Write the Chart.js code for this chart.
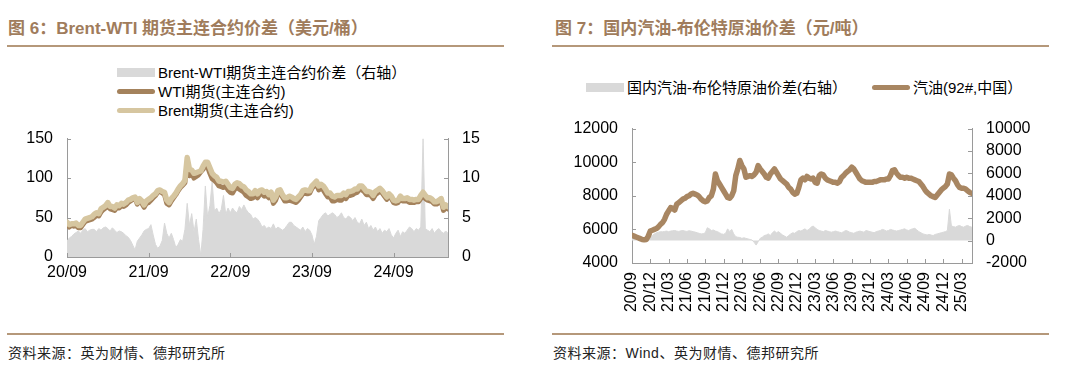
<!DOCTYPE html>
<html lang="zh-CN">
<head>
<meta charset="utf-8">
<title>Brent-WTI 价差 / 国内汽油-布伦特价差</title>
<script src="https://cdn.jsdelivr.net/npm/chart.js@4.4.1/dist/chart.umd.min.js"></script>
<style>
    html, body { margin: 0; padding: 0; background: #fff; }
    body {
        width: 1080px; height: 376px; position: relative; overflow: hidden;
        font-family: "Liberation Sans", "Noto Sans CJK SC", sans-serif; color: #000;
    }
    .title {
        position: absolute; top: 18px; font-size: 17px; font-weight: bold;
        color: #a07c5c; line-height: 21px; white-space: nowrap;
    }
    .rule { position: absolute; height: 2px; background: #b5987a; }
    .source {
        position: absolute; top: 344px; font-size: 14px; letter-spacing: 0.5px;
        color: #222; line-height: 18px; white-space: nowrap;
    }
    .legend { position: absolute; font-size: 15px; line-height: 19px; white-space: nowrap; }
    .legend .item { display: flex; align-items: center; height: 19px; }
    .legend.inline { display: flex; }
    .legend.inline .item + .item { margin-left: 25px; }
    .swatch { display: inline-block; width: 38px; margin-right: 3px; }
    .swatch.box { height: 9px; }
    .swatch.line { height: 5px; border-radius: 3px; }
    .wrap { position: absolute; }
</style>
</head>
<body>

<div class="title" style="left:8px">图 6：Brent-WTI 期货主连合约价差（美元/桶）</div>
<div class="rule" style="left:7px; width:497px; top:45px"></div>
<div class="title" style="left:555px">图 7：国内汽油-布伦特原油价差（元/吨）</div>
<div class="rule" style="left:552px; width:497px; top:45px"></div>

<div id="legendLeft" class="legend" style="left:117px; top:63px"></div>
<div id="legendRight" class="legend inline" style="left:586px; top:78px"></div>

<div class="wrap" style="left:0; top:115px; width:504px; height:175px">
    <canvas id="brentWtiChart" width="504" height="175"></canvas>
</div>
<div class="wrap" style="left:553px; top:105px; width:500px; height:220px">
    <canvas id="gasolineChart" width="500" height="220"></canvas>
</div>

<div class="rule" style="left:7px; width:497px; top:333px"></div>
<div class="source" style="left:8px">资料来源：英为财情、德邦研究所</div>
<div class="rule" style="left:552px; width:497px; top:333px"></div>
<div class="source" style="left:553px">资料来源：Wind、英为财情、德邦研究所</div>

<script>
// Both series start 2020/09, three readings per month, last reading 2025/05
const samplesPerMonth = 3;

// Fig 6 tick labels (one per year)
const brentTickLabels = ["20/09", "21/09", "22/09", "23/09", "24/09"];

// WTI futures, main contract (USD/bbl)
const wti = [
    42, 38, 40, 39, 40, 37, 37, 41, 45, 46, 47, 48,
    50, 53, 52, 57, 60, 62, 65, 61, 60, 59, 63, 62, 65, 64, 66, 69, 71, 73,
    75, 67, 72, 68, 63, 68, 69, 72, 75, 78, 82, 83, 81, 79, 68, 66, 71, 75,
    79, 84, 88, 91, 94, 117, 103, 106, 100, 102, 104, 108, 111, 117, 114, 106, 99, 97,
    94, 90, 89, 88, 90, 85, 82, 81, 86, 88, 86, 84, 82, 78, 76, 74, 75, 78,
    75, 79, 80, 77, 78, 75, 78, 68, 72, 80, 81, 76, 71, 71, 72, 71, 70, 69,
    72, 76, 80, 81, 80, 81, 87, 90, 93, 85, 87, 85, 80, 76, 76, 71, 71, 73,
    72, 72, 76, 74, 78, 78, 79, 81, 82, 86, 85, 83, 79, 79, 78, 74, 79, 81,
    83, 81, 77, 73, 77, 74, 69, 68, 69, 74, 71, 71, 71, 69, 69, 69, 70, 70,
    74, 79, 74, 72, 71, 70, 67, 67, 69, 71, 59, 63, 61
];

// Brent futures, main contract (USD/bbl)
const brent = [
    44, 41, 42, 42, 43, 40, 40, 44, 48, 49, 50, 51,
    54, 56, 55, 61, 63, 65, 69, 64, 64, 62, 66, 65, 68, 67, 69, 72, 73, 75,
    76, 69, 74, 71, 66, 71, 73, 75, 78, 80, 84, 85, 83, 82, 72, 69, 74, 77,
    81, 86, 90, 93, 97, 126, 111, 110, 106, 107, 108, 109, 115, 120, 120, 113, 106, 103,
    101, 96, 96, 95, 96, 92, 88, 87, 92, 94, 93, 90, 89, 85, 83, 80, 80, 84,
    80, 84, 85, 82, 83, 79, 82, 72, 76, 84, 85, 79, 75, 75, 77, 76, 74, 73,
    76, 79, 84, 85, 84, 84, 90, 93, 96, 90, 92, 90, 86, 81, 81, 77, 76, 78,
    78, 78, 81, 79, 83, 83, 84, 86, 86, 90, 90, 87, 83, 83, 82, 78, 83, 85,
    87, 84, 80, 76, 80, 77, 72, 71, 72, 77, 74, 74, 75, 73, 73, 72, 73, 73,
    78, 82, 78, 75, 75, 73, 70, 70, 72, 74, 63, 66, 64
];

// Brent-WTI spread (USD/bbl, right axis)
const brentWtiSpread = [
    2.0, 2.4, 2.6, 2.9, 3.1, 3.3, 3.0, 3.4, 3.6, 3.2, 3.4, 3.5,
    3.5, 3.2, 3.6, 3.4, 3.7, 3.8, 3.6, 3.3, 3.7, 3.4, 3.1, 3.3, 3.2, 3.0, 2.7, 2.5, 2.1, 1.5,
    0.9, 2.0, 2.4, 2.8, 3.3, 3.5, 3.6, 4.1, 2.8, 1.6, 1.1, 1.4, 2.1, 4.3, 3.0, 2.4, 3.0, 2.2,
    1.2, 1.6, 2.2, 2.0, 3.5, 6.8, 4.0, 5.5, 3.2, 4.8, 2.2, 0.2, 3.5, 9.0, 5.0, 6.5, 9.5, 5.8,
    6.2, 5.5, 6.0, 7.8, 5.4, 6.2, 5.6, 6.2, 5.8, 5.6, 6.4, 6.0, 6.6, 6.0, 5.6, 5.4, 4.8, 5.0,
    4.8, 4.4, 3.8, 4.0, 3.6, 3.8, 3.6, 4.2, 3.5, 3.8, 3.6, 3.4, 3.6, 4.0, 4.4, 4.4, 4.0, 3.8,
    3.6, 3.4, 3.8, 3.2, 3.6, 3.4, 2.8, 1.6, 2.6, 4.6, 5.0, 5.4, 5.6, 5.2, 5.4, 5.6, 5.4, 5.0,
    5.2, 5.6, 5.0, 4.8, 5.2, 5.0, 4.6, 5.0, 4.4, 4.2, 4.8, 4.0, 4.4, 3.6, 4.0, 3.4, 3.8, 3.2,
    3.6, 3.0, 3.4, 3.2, 3.6, 2.8, 2.4, 3.0, 3.4, 2.6, 3.2, 3.0, 3.4, 3.8, 3.6, 3.2, 3.6, 3.4,
    3.8, 15, 3.6, 3.4, 3.2, 3.6, 3.0, 3.4, 3.6, 3.2, 3.0, 3.3, 3.0
];

// Fig 7 tick labels (quarterly)
const gasolineTickLabels = [
    "20/09", "20/12", "21/03", "21/06", "21/09", "21/12", "22/03", "22/06", "22/09", "22/12",
    "23/03", "23/06", "23/09", "23/12", "24/03", "24/06", "24/09", "24/12", "25/03"
];

// Gasoline 92#, China (CNY/t)
const gasoline92 = [
    5650, 5600, 5550, 5500, 5450, 5400, 5380, 5400, 5600, 5900, 5950, 6000,
    6050, 6150, 6300, 6400, 6600, 6900, 7100, 7300, 7250, 7150, 7500, 7600, 7700, 7800, 7850,
    7950, 8000, 8100, 8150, 8100, 8050, 7950, 7800, 7700, 7650, 7700, 7900, 8000, 8400, 9300,
    8900, 8700, 8500, 8300, 8100, 7900, 7850, 8000, 8300, 9200, 9600, 10100, 9800, 9600, 9100,
    9150, 9200, 9150, 9250, 9400, 9800, 9600, 9450, 9300, 9100, 9050, 9300, 9450, 9600, 9400,
    9200, 9000, 8900, 8800, 8700, 8500, 8400, 8200, 8100, 8150, 8500, 8950, 9050, 8950, 9150,
    9050, 9000, 9050, 8800, 8750, 9200, 9300, 9250, 9050, 8950, 8900, 8850, 8800, 8800, 8750,
    8850, 9100, 9200, 9350, 9450, 9550, 9700, 9600, 9400, 9200, 9000, 8900, 8850, 8800, 8800,
    8800, 8800, 8850, 8850, 8900, 8950, 8950, 8950, 9000, 9000, 9200, 9500, 9550, 9350, 9200,
    9100, 9100, 9050, 9100, 9050, 9050, 9000, 8950, 8900, 8850, 8700, 8550, 8350, 8200, 8100,
    8000, 7950, 7900, 8050, 8200, 8350, 8450, 8550, 8700, 9300, 9250, 9050, 8900, 8650, 8500,
    8450, 8450, 8400, 8300, 8200, 8150, 8100
];

// Gasoline - Brent crude spread (CNY/t, right axis)
const gasolineSpread = [
    150, 200, 180, 220, 200, 180, 200, 250, 300, 350, 450, 600,
    700, 750, 800, 780, 820, 850, 800, 850, 880, 900, 850, 820, 870, 900, 850,
    820, 880, 850, 800, 760, 700, 650, 600, 620, 700, 1150, 1050, 900, 950, 850,
    800, 700, 600, 560, 650, 1050, 800, 1000, 600, 350, 300, 280, 200, 250, 200,
    150, 100, 50, -150, -400, -100, 200, 300, 450, 500, 600, 450, 700, 850, 700,
    800, 650, 500, 400, 300, 450, 600, 700, 650, 800, 900, 850, 950, 1050, 900,
    1000, 1200, 1300, 1150, 1000, 900, 850, 800, 900, 850, 800, 750, 800, 850, 800,
    750, 700, 800, 900, 850, 750, 700, 650, 750, 800, 850, 800, 750, 900, 850,
    800, 750, 700, 800, 850, 900, 1000, 950, 850, 900, 1000, 950, 900, 850, 900,
    950, 1000, 1050, 950, 900, 1000, 1050, 1100, 950, 800, 700, 600, 550, 500, 550,
    500, 450, 550, 600, 650, 700, 750, 800, 900, 2800, 1300, 1250, 1200, 1300, 1350,
    1250, 1200, 1300, 1350, 1250, 1200, 1150
];

const gray = "#d9d9d9";
const axisGray = "#9a9a9a";
const tickFont = { family: "Liberation Sans", size: 16 };

// turn a value list into points on the month axis
function toPoints(values) {
    return values.map((v, i) => ({ x: i / samplesPerMonth, y: v }));
}

// short tick marks pointing into the plot, like the original
const innerTicks = {
    id: "innerTicks",
    afterDraw(chart) {
        const ctx = chart.ctx;
        ctx.save();
        ctx.strokeStyle = axisGray;
        ctx.lineWidth = 1;
        Object.values(chart.scales).forEach((scale) => {
            const len = 4;
            ctx.beginPath();
            scale.ticks.forEach((t, i) => {
                const p = Math.round(scale.getPixelForTick(i)) + 0.5;
                if (scale.isHorizontal()) {
                    ctx.moveTo(p, scale.top);
                    ctx.lineTo(p, scale.top - len);
                } else if (scale.position === "left") {
                    ctx.moveTo(scale.right, p);
                    ctx.lineTo(scale.right + len, p);
                } else {
                    ctx.moveTo(scale.left, p);
                    ctx.lineTo(scale.left - len, p);
                }
            });
            ctx.stroke();
        });
        ctx.restore();
    },
};

function yAxis(position, min, max, step, width) {
    return {
        type: "linear",
        position: position,
        min: min,
        max: max,
        border: { color: axisGray, width: 1 },
        grid: { display: true, drawOnChartArea: false, drawTicks: false },
        ticks: {
            stepSize: step,
            padding: 14,
            color: "#000",
            font: tickFont,
            callback: (v) => String(v),
        },
        afterFit: (scale) => { scale.width = width; },
    };
}

function lineSet(label, values, color, width, order, axis) {
    return {
        label: label,
        data: toPoints(values),
        yAxisID: axis,
        borderColor: color,
        backgroundColor: color,
        borderWidth: width,
        borderJoinStyle: "round",
        borderCapStyle: "round",
        pointRadius: 0,
        tension: 0,
        order: order,
    };
}

function areaSet(label, values, order, axis) {
    return {
        label: label,
        data: toPoints(values),
        yAxisID: axis,
        borderColor: gray,
        backgroundColor: gray,
        borderWidth: 1,
        pointRadius: 0,
        tension: 0,
        fill: "origin",
        order: order,
        legendType: "box",
    };
}

// HTML legend made from the chart's own datasets
function renderLegend(chart, elementId) {
    const box = document.getElementById(elementId);
    chart.data.datasets.forEach((ds) => {
        const item = document.createElement("div");
        item.className = "item";
        const sw = document.createElement("span");
        sw.className = "swatch " + (ds.legendType === "box" ? "box" : "line");
        sw.style.background = ds.backgroundColor;
        const txt = document.createElement("span");
        txt.textContent = ds.label;
        item.appendChild(sw);
        item.appendChild(txt);
        box.appendChild(item);
    });
}

// Render Fig 6: Brent-WTI
function renderBrentWtiChart() {
    const ctx = document.getElementById("brentWtiChart").getContext("2d");
    return new Chart(ctx, {
        type: "line",
        data: {
            datasets: [
                areaSet("Brent-WTI期货主连合约价差（右轴）", brentWtiSpread, 3, "y1"),
                lineSet("WTI期货(主连合约)", wti, "#a4825c", 5, 2, "y"),
                lineSet("Brent期货(主连合约)", brent, "#d6c6a0", 5.5, 1, "y"),
            ],
        },
        options: {
            responsive: false,
            animation: false,
            events: [],
            layout: { padding: { top: 13, left: 0, right: 0, bottom: 0 } },
            plugins: { legend: { display: false }, tooltip: { enabled: false } },
            scales: {
                x: {
                    type: "linear",
                    min: 0,
                    max: 56,
                    border: { color: axisGray, width: 1 },
                    grid: { display: true, drawOnChartArea: false, drawTicks: false },
                    afterBuildTicks: (scale) => {
                        scale.ticks = brentTickLabels.map((_, i) => ({ value: i * 12 }));
                    },
                    ticks: {
                        padding: 6,
                        color: "#000",
                        font: tickFont,
                        maxRotation: 0,
                        autoSkip: false,
                        callback: (v) => brentTickLabels[v / 12],
                    },
                    afterFit: (scale) => { scale.height = 33; },
                },
                y: yAxis("left", 0, 150, 50, 67),
                y1: yAxis("right", 0, 15, 5, 56),
            },
        },
        plugins: [innerTicks],
    });
}

// Render Fig 7: gasoline vs Brent
function renderGasolineChart() {
    const ctx = document.getElementById("gasolineChart").getContext("2d");
    return new Chart(ctx, {
        type: "line",
        data: {
            datasets: [
                areaSet("国内汽油-布伦特原油价差(右轴）", gasolineSpread, 2, "y1"),
                lineSet("汽油(92#,中国）", gasoline92, "#a88662", 5.5, 1, "y"),
            ],
        },
        options: {
            responsive: false,
            animation: false,
            events: [],
            layout: { padding: { top: 14, left: 0, right: 0, bottom: 0 } },
            plugins: { legend: { display: false }, tooltip: { enabled: false } },
            scales: {
                x: {
                    type: "linear",
                    min: 0,
                    max: 55.7,
                    border: { color: axisGray, width: 1 },
                    grid: { display: true, drawOnChartArea: false, drawTicks: false },
                    afterBuildTicks: (scale) => {
                        scale.ticks = gasolineTickLabels.map((_, i) => ({ value: i * 3 }));
                    },
                    ticks: {
                        padding: 9,
                        color: "#000",
                        font: tickFont,
                        minRotation: 90,
                        maxRotation: 90,
                        autoSkip: false,
                        callback: (v) => gasolineTickLabels[v / 3],
                    },
                    afterFit: (scale) => { scale.height = 62; },
                },
                y: yAxis("left", 4000, 12000, 2000, 79),
                y1: yAxis("right", -2000, 10000, 2000, 81),
            },
        },
        plugins: [innerTicks],
    });
}

const brentChart = renderBrentWtiChart();
renderLegend(brentChart, "legendLeft");
const gasolineChart = renderGasolineChart();
renderLegend(gasolineChart, "legendRight");
</script>
</body>
</html>
